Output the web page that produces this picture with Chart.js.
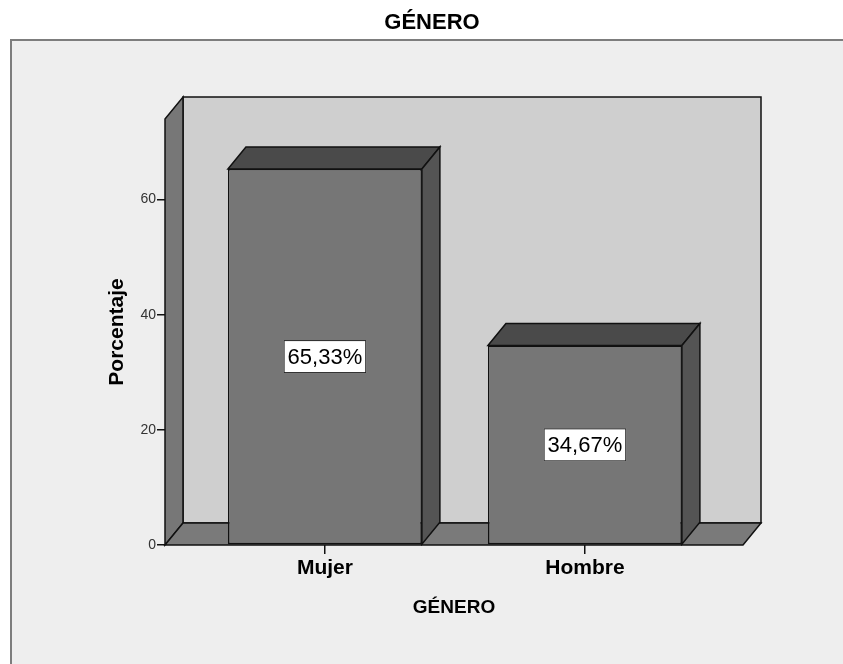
<!DOCTYPE html>
<html>
<head>
<meta charset="utf-8">
<script src="https://cdn.jsdelivr.net/npm/chart.js@4.4.1/dist/chart.umd.min.js"></script>
<style>
  html, body { margin: 0; padding: 0; background: #fff; }
  canvas { display: block; }
</style>
</head>
<body>
<canvas id="generoChart" width="843" height="664"></canvas>
<script>
const TITLE = "GÉNERO";
const CATEGORIES = ["Mujer", "Hombre"];
const PERCENTAGES = [65.33, 34.67];
const Y_TICKS = [0, 20, 40, 60];
const Y_MAX = 74;
const X_MIN = -0.615;
const X_MAX = 1.608;

const FONT = '"Liberation Sans", Arial, sans-serif';
const DEPTH_X = 18;
const DEPTH_Y = -22;

function poly(ctx, pts, fill) {
  ctx.beginPath();
  ctx.moveTo(pts[0][0], pts[0][1]);
  pts.slice(1).forEach(p => ctx.lineTo(p[0], p[1]));
  ctx.closePath();
  ctx.fillStyle = fill;
  ctx.fill();
  ctx.stroke();
}

const box3dPlugin = {
  id: "box3d",
  beforeDraw(chart) {
    const { ctx, width, height } = chart;
    ctx.save();
    ctx.fillStyle = "#ffffff";
    ctx.fillRect(0, 0, width, height);
    ctx.fillStyle = "#eeeeee";
    ctx.fillRect(11, 40, width, height);
    ctx.strokeStyle = "#7d7d7d";
    ctx.lineWidth = 2;
    ctx.strokeRect(11, 40, width + 10, height + 10);
    // chart title sits over the frame, centred on it
    ctx.fillStyle = "#000";
    ctx.font = `bold 22px ${FONT}`;
    ctx.textAlign = "center";
    ctx.textBaseline = "middle";
    ctx.fillText(TITLE, 432, 23);
    ctx.restore();
  },
  beforeDatasetsDraw(chart) {
    const { ctx, chartArea: a, scales: { y } } = chart;
    const base = y.getPixelForValue(0);
    const top = y.getPixelForValue(Y_MAX);
    ctx.save();
    ctx.strokeStyle = "#111";
    ctx.lineWidth = 1.5;
    // back wall
    poly(ctx, [
      [a.left + DEPTH_X, top + DEPTH_Y], [a.right + DEPTH_X, top + DEPTH_Y],
      [a.right + DEPTH_X, base + DEPTH_Y], [a.left + DEPTH_X, base + DEPTH_Y]
    ], "#cfcfcf");
    // left wall
    poly(ctx, [
      [a.left, top], [a.left + DEPTH_X, top + DEPTH_Y],
      [a.left + DEPTH_X, base + DEPTH_Y], [a.left, base]
    ], "#777777");
    // floor
    poly(ctx, [
      [a.left, base], [a.left + DEPTH_X, base + DEPTH_Y],
      [a.right + DEPTH_X, base + DEPTH_Y], [a.right, base]
    ], "#7a7a7a");
    ctx.restore();
  },
  afterDatasetsDraw(chart) {
    const { ctx } = chart;
    const meta = chart.getDatasetMeta(0);
    ctx.save();
    ctx.strokeStyle = "#111";
    ctx.lineWidth = 1.5;
    meta.data.forEach(bar => {
      const { x, y, base, width } = bar.getProps(["x", "y", "base", "width"], true);
      const left = x - width / 2;
      const right = x + width / 2;
      // top face
      poly(ctx, [
        [left, y], [left + DEPTH_X, y + DEPTH_Y],
        [right + DEPTH_X, y + DEPTH_Y], [right, y]
      ], "#4a4a4a");
      // side face
      poly(ctx, [
        [right, y], [right + DEPTH_X, y + DEPTH_Y],
        [right + DEPTH_X, base + DEPTH_Y], [right, base]
      ], "#545454");
    });

    // value labels in white boxes
    ctx.font = `22px ${FONT}`;
    ctx.textAlign = "center";
    ctx.textBaseline = "middle";
    ctx.lineWidth = 1;
    meta.data.forEach((bar, i) => {
      const { x, y, base } = bar.getProps(["x", "y", "base"], true);
      const text = `${PERCENTAGES[i].toFixed(2).replace(".", ",")}%`;
      const w = ctx.measureText(text).width + 8;
      const h = 33;
      const cy = (y + base) / 2;
      ctx.fillStyle = "#ffffff";
      ctx.fillRect(x - w / 2, cy - h / 2, w, h);
      ctx.strokeStyle = "#222";
      ctx.strokeRect(x - w / 2 + 0.5, cy - h / 2 + 0.5, w - 1, h - 1);
      ctx.fillStyle = "#000";
      ctx.fillText(text, x, cy + 1);
    });
    ctx.restore();
  }
};

new Chart(document.getElementById("generoChart"), {
  type: "bar",
  data: {
    datasets: [{
      data: PERCENTAGES.map((v, i) => ({ x: i, y: v })),
      backgroundColor: "#767676",
      borderColor: "#111",
      borderWidth: 1.5,
      borderSkipped: false,
      categoryPercentage: 1,
      barPercentage: 0.746
    }]
  },
  plugins: [box3dPlugin],
  options: {
    responsive: false,
    animation: false,
    layout: { padding: { top: 119, right: 100, left: 0, bottom: 0 } },
    plugins: {
      legend: { display: false },
      tooltip: { enabled: false },
      title: { display: false }
    },
    scales: {
      x: {
        type: "linear",
        offset: false,
        min: X_MIN,
        max: X_MAX,
        afterBuildTicks(scale) {
          scale.ticks = CATEGORIES.map((_, i) => ({ value: i }));
        },
        afterFit(scale) { scale.height = 119; },
        ticks: {
          color: "#000",
          font: { family: FONT, size: 21, weight: "bold" },
          padding: 2,
          maxRotation: 0,
          callback: value => CATEGORIES[value]
        },
        grid: { offset: false, drawOnChartArea: false, tickLength: 9, color: "#111", lineWidth: 1.5 },
        border: { display: false },
        title: {
          display: true,
          text: "GÉNERO",
          color: "#000",
          font: { family: FONT, size: 19, weight: "bold" },
          padding: { top: 0, bottom: 44.6 }
        }
      },
      y: {
        min: 0,
        max: Y_MAX,
        afterBuildTicks(scale) {
          scale.ticks = Y_TICKS.map(v => ({ value: v }));
        },
        afterFit(scale) { scale.width = 165; },
        ticks: {
          color: "#333",
          font: { family: FONT, size: 14 },
          padding: 1
        },
        grid: { drawOnChartArea: false, tickLength: 8, color: "#111", lineWidth: 1.5 },
        border: { display: false },
        title: {
          display: true,
          text: "Porcentaje",
          color: "#000",
          font: { family: FONT, size: 21, weight: "bold" },
          padding: { top: 104.4, bottom: 0 }
        }
      }
    }
  }
});
</script>
</body>
</html>
